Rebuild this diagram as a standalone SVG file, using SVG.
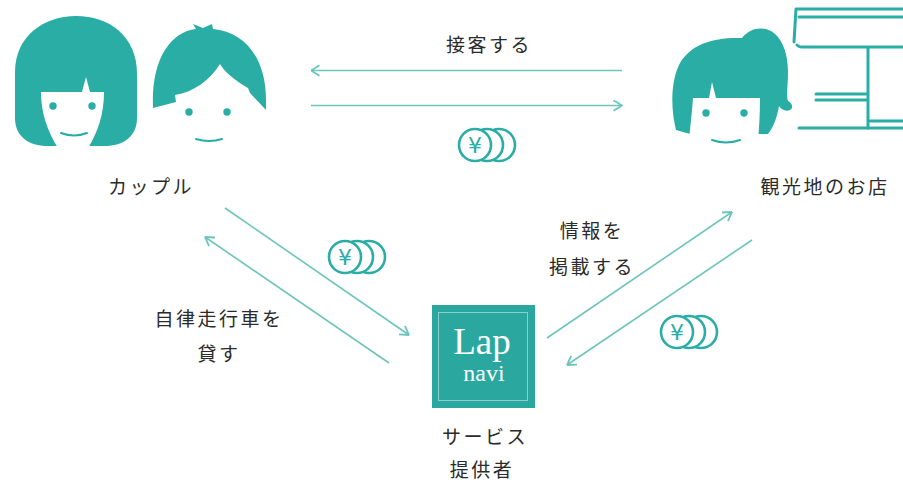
<svg xmlns="http://www.w3.org/2000/svg" width="903" height="487" viewBox="0 0 903 487">
  <style>
    .hair { fill: #2aada5; }
    .face { fill: #ffffff; }
    .eye { fill: #2aada5; }
    .smile { fill: none; stroke: #2aada5; stroke-width: 2; stroke-linecap: round; }
    .shop { fill: none; stroke: #2aada5; stroke-width: 3; stroke-linecap: round; stroke-linejoin: round; }
    .flow { fill: none; stroke: #6cc5bb; stroke-width: 1.6; marker-end: url(#chev); }
    .coin { fill: #ffffff; stroke: #2aada5; stroke-width: 2.6; }
    .yen { fill: #2aada5; font-family: "DejaVu Sans", "Liberation Sans", sans-serif; font-size: 22px; text-anchor: middle; }
    .label { fill: #2b2b2b; font-family: "Noto Sans CJK JP", "Noto Sans", sans-serif; font-size: 19px; letter-spacing: 2.5px; text-anchor: middle; }
    .logo-main { fill: #ffffff; font-family: "Liberation Serif", serif; text-anchor: middle; }
  </style>
  <defs>
    <marker id="chev" viewBox="0 0 10 12" refX="9.5" refY="6" markerWidth="10" markerHeight="12" markerUnits="userSpaceOnUse" orient="auto">
      <path d="M1,0.8 L9.5,6 L1,11.2" fill="none" stroke="#6cc5bb" stroke-width="1.8" stroke-linejoin="round"/>
    </marker>
    <g id="coins">
      <circle class="coin" cx="24" cy="0" r="16"/>
      <circle class="coin" cx="12" cy="0" r="16"/>
      <circle class="coin" cx="0" cy="0" r="16"/>
      <text class="yen" x="0" y="8">¥</text>
    </g>
  </defs>

  <!-- couple: girl -->
  <g id="girl">
    <path class="hair" d="M15,72 C15,36 44,16 76,16 C109,16 137,36 137,74 L137,118 C137,136 124,146 104,146 L48,146 C28,146 15,136 15,118 Z"/>
    <path class="face" d="M41,92 L82,92 L86,77 L90,92 L104,92 C104,114 98,132 88,148 L58,148 C48,132 41,114 41,92 Z"/>
    <circle class="eye" cx="53" cy="106" r="3.7"/>
    <circle class="eye" cx="92" cy="106" r="3.7"/>
    <path class="smile" d="M61,133 Q74,138 87,133"/>
  </g>

  <!-- couple: boy -->
  <g id="boy">
    <path class="hair" d="M153,108 C151,60 170,32 196,29 L193,24 L203,28 L212,24 L213,29 C245,32 266,58 266,100 L266,110 L250,93 L248,88 C238,82 226,74 220,64 C210,80 194,92 175,95 L176,102 Z"/>
    <circle class="eye" cx="189" cy="112" r="3.7"/>
    <circle class="eye" cx="227" cy="112" r="3.7"/>
    <path class="smile" d="M196,139 Q209,143 222,139"/>
  </g>

  <!-- shop clerk -->
  <g id="clerk">
    <path class="hair" d="M676,130 C671,110 670,82 680,63 C691,44 714,37 742,38 C748,30 757,27 766,29 C780,33 788,50 788,72 C788,86 786,95 788,101 C792,103 794,108 790,110 C785,112 781,109 779,106 C777,118 773,128 768,134 L690,134 Z"/>
    <path class="face" d="M693,98 L709,98 L712,82 L716,98 L760,98 C760,115 759,132 757,150 L688,150 C690,130 692,112 693,98 Z"/>
    <circle class="eye" cx="706" cy="113" r="3.7"/>
    <circle class="eye" cx="744" cy="113" r="3.7"/>
    <path class="smile" d="M712,140 Q726,145 740,140"/>
  </g>

  <!-- shop front -->
  <g id="shop">
    <path class="shop" d="M905,9 L796,9 L794,42"/>
    <path class="shop" d="M905,17 L799,17"/>
    <path class="shop" d="M905,47 L801,47 C799,47 798,46 797,45"/>
    <path class="shop" d="M868,48 L868,128"/>
    <path class="shop" d="M816,94 L866,94"/>
    <path class="shop" d="M816,100 L866,100"/>
    <path class="shop" d="M870,121 L905,121"/>
    <path class="shop" d="M799,128 L905,128"/>
  </g>

  <!-- service provider logo -->
  <g id="lapnavi">
    <rect x="432" y="305" width="103" height="103" fill="#2aa8a0"/>
    <rect x="438.5" y="312.5" width="89" height="88" fill="none" stroke="#ffffff" stroke-opacity="0.45" stroke-width="1"/>
    <text class="logo-main" x="482" y="354" font-size="37">Lap</text>
    <text class="logo-main" x="484" y="381" font-size="24">navi</text>
  </g>

  <!-- connectors -->
  <g id="connectors">
    <line class="flow" x1="622" y1="70.5" x2="311" y2="70.5"/>
    <line class="flow" x1="311" y1="105.5" x2="622" y2="105.5"/>
    <line class="flow" x1="225" y1="208" x2="409" y2="335"/>
    <line class="flow" x1="389" y1="363" x2="205" y2="237"/>
    <line class="flow" x1="547" y1="338" x2="732" y2="212"/>
    <line class="flow" x1="752" y1="240" x2="567" y2="365"/>
  </g>

  <!-- payments -->
  <g id="coin-top"><use href="#coins" x="475" y="145"/></g>
  <g id="coin-left"><use href="#coins" x="345" y="257"/></g>
  <g id="coin-right"><use href="#coins" x="677" y="332"/></g>

  <!-- labels -->
  <g id="labels">
    <text class="label" x="489" y="52">接客する</text>
    <text class="label" x="151" y="194">カップル</text>
    <text class="label" x="825" y="194">観光地のお店</text>
    <text class="label" x="219" y="326">自律走行車を</text>
    <text class="label" x="219" y="361">貸す</text>
    <text class="label" x="592" y="238">情報を</text>
    <text class="label" x="592" y="274">掲載する</text>
    <text class="label" x="485" y="444">サービス</text>
    <text class="label" x="482" y="477">提供者</text>
  </g>
</svg>
